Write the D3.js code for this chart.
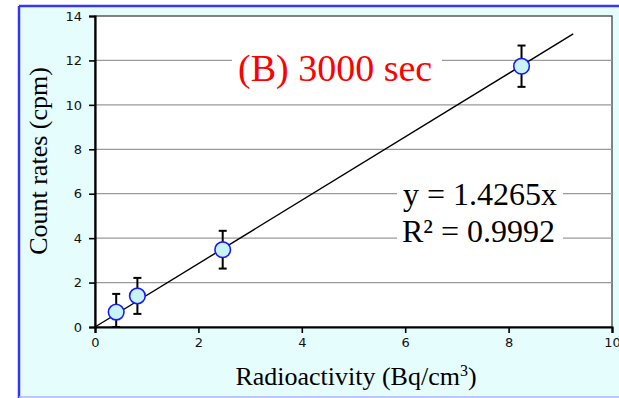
<!DOCTYPE html>
<html>
<head>
<meta charset="utf-8">
<script src="https://cdn.jsdelivr.net/npm/d3@7"></script>
<style>
  body { margin: 0; background: #fff; }
  svg { display: block; }
</style>
</head>
<body>
<div id="chart"></div>
<script>
// measured points (Bq/cm3 vs cpm) with error bars
const activity = [0.41, 0.82, 2.47, 8.25];
const countRate = [0.67, 1.40, 3.48, 11.74];
const rateErr = [0.82, 0.81, 0.85, 0.93];
const slope = 1.4265;
const fitRange = [0, 9.25];
const xTicks = [0, 2, 4, 6, 8, 10];
const yTicks = [0, 2, 4, 6, 8, 10, 12, 14];

const W = 619, H = 398;
const margin = { top: 16, right: 7, bottom: 71, left: 95 };
const width = W - margin.left - margin.right;
const height = H - margin.top - margin.bottom;

const svg = d3.select('#chart').append('svg')
  .attr('width', W)
  .attr('height', H);

// slide background + frame
svg.append('rect').attr('x', 19).attr('y', 6).attr('width', W - 19).attr('height', 391).attr('fill', '#e5fdfd');
svg.append('line').attr('x1', 19).attr('x2', W).attr('y1', 6).attr('y2', 6).attr('stroke', '#3535f5').attr('stroke-width', 2.5);
svg.append('line').attr('x1', 19).attr('x2', 19).attr('y1', 6).attr('y2', H).attr('stroke', '#3535f5').attr('stroke-width', 2.5);
svg.append('line').attr('x1', 19).attr('x2', W).attr('y1', 397).attr('y2', 397).attr('stroke', '#a8b4ff').attr('stroke-width', 1.5);

const g = svg.append('g').attr('transform', `translate(${margin.left},${margin.top})`);

const x = d3.scaleLinear().domain([0, 10]).range([0, width]);
const y = d3.scaleLinear().domain([0, 14]).range([height, 0]);

// plot area
g.append('rect').attr('width', width).attr('height', height)
  .attr('fill', '#fff').attr('stroke', '#333').attr('stroke-width', 1.2);

// gridlines
g.append('g').selectAll('line')
  .data(yTicks.filter(d => d > 0 && d < 14))
  .enter().append('line')
  .attr('x1', 0).attr('x2', width)
  .attr('y1', d => y(d)).attr('y2', d => y(d))
  .attr('stroke', '#9a9a9a').attr('stroke-width', 1.3);

// axes
const xAxis = g.append('g')
  .attr('transform', `translate(0,${height})`)
  .call(d3.axisBottom(x).tickValues(xTicks).tickSize(6).tickPadding(5));
const yAxis = g.append('g')
  .call(d3.axisLeft(y).tickValues(yTicks).tickSize(6).tickPadding(7));

[xAxis, yAxis].forEach(a => {
  a.attr('font-size', null);
  a.select('.domain').attr('stroke', '#000').attr('stroke-width', 2.2);
  a.selectAll('.tick line').attr('stroke', '#000').attr('stroke-width', 1.6);
  a.selectAll('.tick text')
    .attr('fill', '#111')
    .style('font-family', 'DejaVu Sans, Verdana, sans-serif')
    .style('font-size', '13px');
});

// label boxes (white, cut the gridlines)
const serif = 'Liberation Serif, Times New Roman, serif';
g.append('rect').attr('x', 232 - margin.left).attr('y', 46 - margin.top)
  .attr('width', 210).attr('height', 46).attr('fill', '#fff');
g.append('rect').attr('x', 397 - margin.left).attr('y', 178 - margin.top)
  .attr('width', 166).attr('height', 72).attr('fill', '#fff');

// trend line
const fitLine = d3.line().x(d => x(d)).y(d => y(slope * d));
g.append('path')
  .datum(fitRange)
  .attr('d', fitLine)
  .attr('fill', 'none')
  .attr('stroke', '#000')
  .attr('stroke-width', 1.4);

const pts = activity.map((a, i) => ({ a, c: countRate[i], e: rateErr[i] }));

// error bars
const eb = g.append('g').attr('stroke', '#000').attr('stroke-width', 2);
eb.selectAll('.v').data(pts).enter().append('line')
  .attr('x1', d => x(d.a)).attr('x2', d => x(d.a))
  .attr('y1', d => y(d.c + d.e)).attr('y2', d => y(Math.max(0, d.c - d.e)));
eb.selectAll('.top').data(pts).enter().append('line')
  .attr('x1', d => x(d.a) - 4).attr('x2', d => x(d.a) + 4)
  .attr('y1', d => y(d.c + d.e)).attr('y2', d => y(d.c + d.e));
eb.selectAll('.bot').data(pts).enter().append('line')
  .attr('x1', d => x(d.a) - 4).attr('x2', d => x(d.a) + 4)
  .attr('y1', d => y(Math.max(0, d.c - d.e))).attr('y2', d => y(Math.max(0, d.c - d.e)));

// points
g.append('g').selectAll('circle')
  .data(pts)
  .enter().append('circle')
  .attr('cx', d => x(d.a))
  .attr('cy', d => y(d.c))
  .attr('r', 7.8)
  .attr('fill', '#c8f4f6')
  .attr('stroke', '#1a1aff')
  .attr('stroke-width', 1.6);

// annotations
svg.append('text').attr('x', 238).attr('y', 81)
  .style('font-family', serif).style('font-size', '38px').attr('fill', '#ff0000')
  .text('(B) 3000 sec');
svg.append('text').attr('x', 403).attr('y', 205)
  .style('font-family', serif).style('font-size', '32px').attr('fill', '#000')
  .text('y = 1.4265x');
svg.append('text').attr('x', 402).attr('y', 242)
  .style('font-family', serif).style('font-size', '32px').attr('fill', '#000')
  .text('R² = 0.9992');

// axis titles
svg.append('text')
  .attr('transform', 'translate(47,161) rotate(-90)')
  .attr('text-anchor', 'middle')
  .style('font-family', serif).style('font-size', '26px').attr('fill', '#000')
  .text('Count rates (cpm)');
const xt = svg.append('text')
  .attr('x', 356).attr('y', 385)
  .attr('text-anchor', 'middle')
  .style('font-family', serif).style('font-size', '26px').attr('fill', '#000');
xt.append('tspan').text('Radioactivity (Bq/cm');
xt.append('tspan').attr('dy', -9).style('font-size', '16px').text('3');
xt.append('tspan').attr('dy', 9).text(')');
</script>
</body>
</html>
